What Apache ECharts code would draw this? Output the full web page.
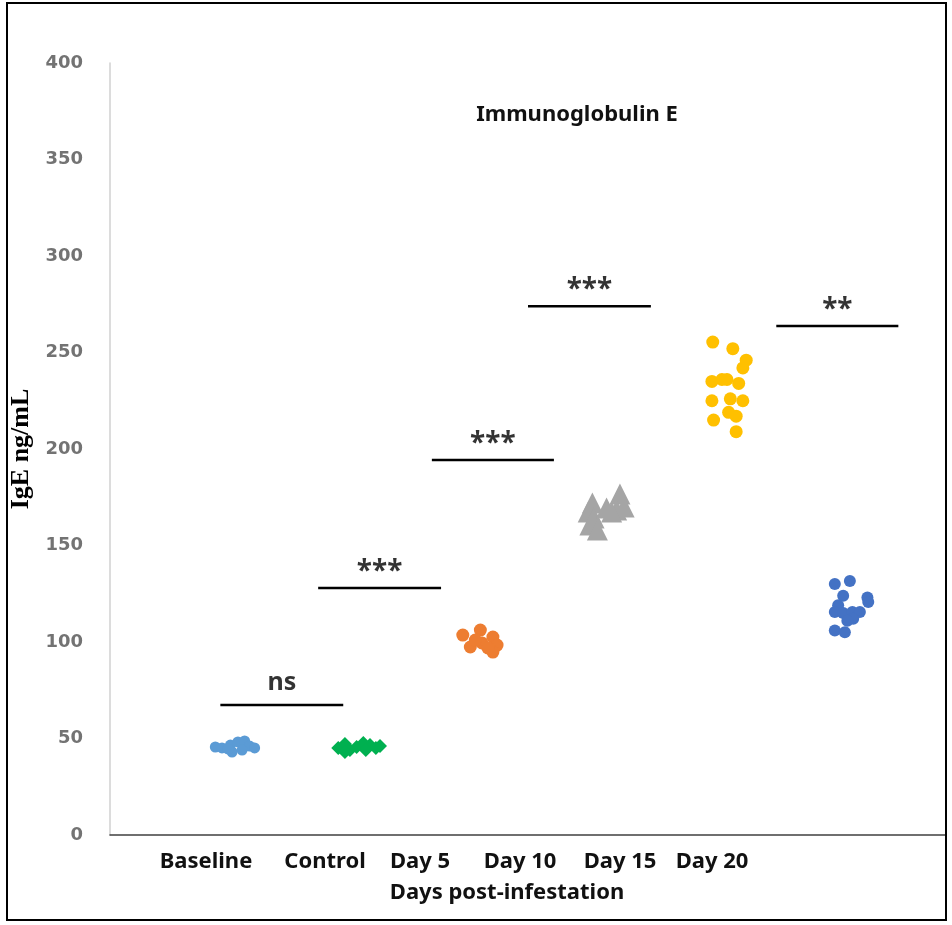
<!DOCTYPE html>
<html>
<head>
<meta charset="utf-8">
<style>
html,body{margin:0;padding:0;background:#fff;}
#chart{width:952px;height:925px;}
</style>
<script src="https://cdn.jsdelivr.net/npm/echarts@6/dist/echarts.min.js"></script>
</head>
<body>
<div id="chart"></div>
<script>
// x positions are in percent of the horizontal axis (jitter positions), y in ng/mL
var categories = ['Baseline', 'Control', 'Day 5', 'Day 10', 'Day 15', 'Day 20'];
var yTicks = [0, 50, 100, 150, 200, 250, 300, 350, 400];

var baseline = [[12.6,45.6],[13.4,45.1],[14.4,46.6],[15.3,48.2],[16.1,48.7],[16.7,46.1],[17.3,45.1],[14.6,43.0],[14.1,44.6],[15.8,44.0]];
var control  = [[27.3,45.1],[28.1,47.2],[28.7,44.0],[29.5,45.6],[30.3,47.7],[31.1,46.6],[31.8,45.1],[28.1,43.0],[30.6,44.0],[32.3,46.1]];
var day5     = [[42.2,103.6],[44.3,106.2],[45.8,102.6],[46.3,98.4],[43.1,97.4],[45.8,94.8],[44.5,99.5],[43.7,101.0],[45.2,96.9]];
var day10    = [[57.7,172.0],[57.2,167.4],[57.9,164.2],[57.4,160.6],[58.3,158.0],[61.0,176.7],[59.4,169.4],[60.6,168.4],[61.5,170.0],[60.0,167.4]];
var day15    = [[72.1,255.4],[74.5,252.0],[76.1,246.0],[75.7,242.0],[72.0,235.0],[73.2,236.0],[73.8,236.0],[75.2,234.0],[72.0,225.0],[74.2,226.0],[75.7,225.0],[72.2,215.0],[74.0,219.0],[74.9,217.0],[74.9,209.0]];
var day20    = [[86.7,130.0],[88.5,131.6],[87.7,124.0],[90.6,123.0],[90.7,120.7],[87.1,119.0],[86.7,115.5],[87.7,115.0],[88.8,115.5],[89.7,115.5],[88.9,112.0],[88.2,111.0],[86.7,106.0],[87.9,105.0]];

// significance bars: [xStart, xEnd, y, label]
var sigBars = [
  [13.2, 27.9, 67.4, 'ns'],
  [24.9, 39.6, 128.0, '***'],
  [38.5, 53.1, 194.3, '***'],
  [50.0, 64.7, 274.0, '***'],
  [79.7, 94.3, 263.7, '**']
];

var chart = echarts.init(document.getElementById('chart'));

var gridLeft = 110, gridRight = 6, gridTop = 63, gridBottom = 90;

function scatter(name, data, symbol, size, color) {
  return {
    name: name, type: 'scatter', data: data, symbol: symbol, symbolSize: size,
    itemStyle: { color: color, opacity: 1 }, z: 3, silent: true
  };
}

var series = [
  scatter('Baseline', baseline, 'circle', 11, '#5B9BD5'),
  scatter('Control', control, 'diamond', 14, '#00B050'),
  scatter('Day 5', day5, 'circle', 13, '#ED7D31'),
  scatter('Day 10', day10, 'triangle', 21, '#A5A5A5'),
  scatter('Day 15', day15, 'circle', 13, '#FFC000'),
  scatter('Day 20', day20, 'circle', 12, '#4472C4')
];

sigBars.forEach(function (b) {
  var isNs = b[3] === 'ns';
  series.push({
    type: 'line', data: [[b[0], b[2]], [b[1], b[2]]], symbol: 'none',
    lineStyle: { color: '#000', width: 2.5 }, silent: true, z: 4
  });
  series.push({
    type: 'scatter', data: [[(b[0] + b[1]) / 2, b[2]]], symbolSize: 0, silent: true,
    label: {
      show: true, position: 'top', distance: isNs ? 10 : 2, formatter: b[3],
      color: '#000', fontWeight: 'bold',
      fontSize: isNs ? 25 : 28,
      fontFamily: 'Noto Sans'
    }
  });
});

// category label centres (layout, in px)
var catCenters = [206, 325, 420, 520, 620, 712];
var graphics = categories.map(function (c, i) {
  return {
    type: 'text', x: catCenters[i], y: 862,
    style: { text: c, font: 'bold 22px "Noto Sans"', fill: '#111', textAlign: 'center', textVerticalAlign: 'middle' }
  };
});
graphics.push({
  type: 'text', x: 507, y: 893,
  style: { text: 'Days post-infestation', font: 'bold 22px "Noto Sans"', fill: '#111', textAlign: 'center', textVerticalAlign: 'middle' }
});
graphics.push({
  type: 'text', x: 577, y: 115,
  style: { text: 'Immunoglobulin E', font: 'bold 22px "Noto Sans"', fill: '#111', textAlign: 'center', textVerticalAlign: 'middle' }
});
graphics.push({
  type: 'rect', shape: { x: 7, y: 3, width: 939, height: 917 },
  style: { fill: 'none', stroke: '#000', lineWidth: 2 }, z: 10
});

chart.setOption({
  animation: false,
  backgroundColor: '#fff',
  grid: { left: gridLeft, right: gridRight, top: gridTop, bottom: gridBottom, containLabel: false, outerBoundsMode: 'none' },
  xAxis: {
    type: 'value', min: 0, max: 100,
    axisLine: { show: true, onZero: false, lineStyle: { color: '#404040', width: 1.5 } },
    axisTick: { show: false }, axisLabel: { show: false }, splitLine: { show: false }
  },
  yAxis: {
    type: 'value', min: yTicks[0], max: yTicks[yTicks.length - 1], interval: yTicks[1] - yTicks[0],
    name: 'IgE ng/mL', nameLocation: 'middle', nameGap: 66, nameRotate: 90,
    nameTextStyle: { fontFamily: 'Liberation Serif', fontWeight: 'bold', fontSize: 26, color: '#000' },
    axisLine: { show: true, lineStyle: { color: '#d0d0d0', width: 1.5 } },
    axisTick: { show: false }, splitLine: { show: false },
    axisLabel: { margin: 27, color: '#737373', fontFamily: 'DejaVu Sans', fontWeight: 'bold', fontSize: 18 }
  },
  graphic: graphics,
  series: series
});
</script>
</body>
</html>
